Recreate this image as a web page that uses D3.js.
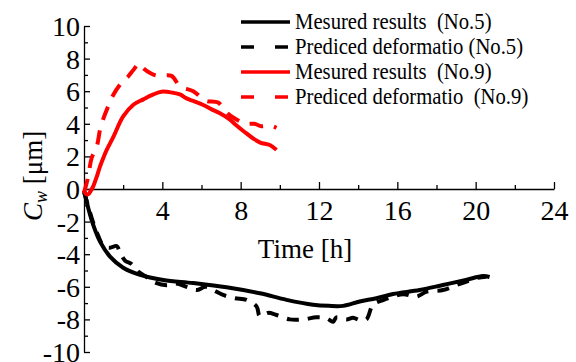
<!DOCTYPE html>
<html>
<head>
<meta charset="utf-8">
<script src="https://cdn.jsdelivr.net/npm/d3@7"></script>
</head>
<body style="margin:0;background:#fff">
<svg id="chart" width="576" height="362" font-family="Liberation Serif" style="display:block;font-family:'Liberation Serif'"></svg>
<script>
// ---- data ----
const xTickLabels = [4, 8, 12, 16, 20, 24];
const xMinorTicks = [2, 6, 10, 14, 18, 22];
const yTickLabels = [10, 8, 6, 4, 2, 0, -2, -4, -6, -8, -10];
const yMinorTicks = [9, 7, 5, 3, 1, -1, -3, -5, -7, -9];

// No.5 measured (black solid)
const no5MeasX = [0, 0.05, 0.22, 0.47, 0.82, 1.33, 2.0, 2.86, 4.05, 5.58, 7.28, 8.98, 10.34, 11.7, 12.5, 13.23, 14.08, 14.93, 15.78, 17.14, 18.33, 19.5, 20.37, 20.71];
const no5MeasY = [-0.1, -0.3, -1.18, -2.2, -3.23, -4.15, -4.83, -5.27, -5.58, -5.77, -6.03, -6.4, -6.8, -7.1, -7.17, -7.17, -6.9, -6.7, -6.44, -6.2, -5.89, -5.58, -5.34, -5.4];

// No.5 predicted (black dashed)
const no5PredX = [0, 0.2, 0.45, 0.7, 1.0, 1.33, 1.67, 1.84, 2.1, 2.43, 2.8, 3.2, 3.54, 4.22, 4.7, 5.24, 5.75, 6.2, 6.6, 7.1, 7.7, 8.3, 8.81, 8.98, 9.4, 9.83, 10.5, 11.19, 11.87, 12.38, 12.72, 12.89, 13.4, 13.74, 14.1, 14.42, 14.76, 15.3, 15.78, 16.3, 16.97, 17.5, 18.33, 19.0, 19.5, 20.1, 20.54];
const no5PredY = [-0.2, -1.0, -2.0, -2.8, -3.5, -3.6, -3.5, -3.9, -4.4, -4.6, -5.1, -5.4, -5.69, -5.9, -5.8, -6.0, -6.2, -6.0, -6.2, -6.5, -6.7, -6.8, -7.2, -7.8, -7.6, -7.73, -8.0, -8.0, -7.87, -7.93, -8.14, -7.87, -8.0, -7.9, -8.05, -8.0, -7.1, -6.8, -6.6, -6.45, -6.6, -6.3, -6.2, -5.9, -5.69, -5.45, -5.38];

// No.9 measured (red solid)
const no9MeasX = [0, 0.1, 0.22, 0.35, 0.47, 0.65, 0.82, 1.0, 1.16, 1.5, 2.0, 2.52, 3.03, 3.54, 3.96, 4.56, 4.9, 5.24, 5.58, 6.09, 6.5, 6.94, 7.4, 7.79, 8.2, 8.64, 9.0, 9.49, 9.83];
const no9MeasY = [-0.1, -0.3, -0.32, -0.1, 0.16, 0.75, 1.39, 1.95, 2.4, 3.2, 4.45, 5.17, 5.5, 5.8, 5.97, 5.9, 5.8, 5.56, 5.4, 5.15, 4.9, 4.64, 4.3, 3.9, 3.5, 3.1, 2.85, 2.7, 2.4];

// No.9 predicted (red dashed)
const no9PredX = [0, 0.1, 0.22, 0.39, 0.65, 0.85, 1.16, 1.5, 1.97, 2.25, 2.52, 2.82, 3.03, 3.4, 3.74, 4.47, 4.9, 5.58, 6.0, 6.26, 6.85, 7.2, 7.6, 8.28, 8.7, 9.06, 9.5, 9.83];
const no9PredY = [-0.2, 0.2, 0.8, 1.9, 2.6, 3.8, 4.85, 5.78, 6.6, 6.9, 7.3, 7.7, 7.4, 7.1, 6.95, 6.94, 6.3, 6.0, 5.6, 5.4, 5.3, 4.8, 4.4, 4.0, 4.0, 3.85, 3.9, 3.75];

const legendLabels = ["Mesured results\u00a0\u00a0(No.5)", "Prediced deformatio (No.5)", "Mesured results\u00a0\u00a0(No.9)", "Prediced deformatio\u00a0\u00a0(No.9)"];
const seriesColors = ["#000000", "#000000", "#ff0000", "#ff0000"];
const seriesDashed = [false, true, false, true];

// ---- drawing ----
const SERIF = "Liberation Serif";
const svg = d3.select("#chart");
const x = d3.scaleLinear().domain([0, 24]).range([84, 554]);
const y = d3.scaleLinear().domain([-10, 10]).range([352, 26]);
const FONT = 28;

function serif(sel) {
  return sel.attr("font-family", SERIF).style("font-family", SERIF);
}

const series = [
  { xs: no5MeasX, ys: no5MeasY },
  { xs: no5PredX, ys: no5PredY },
  { xs: no9MeasX, ys: no9MeasY },
  { xs: no9PredX, ys: no9PredY }
].map((s, i) => ({
  pts: s.xs.map((v, j) => [v, s.ys[j]]),
  color: seriesColors[i],
  dashed: seriesDashed[i],
  label: legendLabels[i]
}));

// Y axis (left spine at x=0)
const yAxis = d3.axisLeft(y).tickValues(yTickLabels).tickFormat(d => String(d))
  .tickSizeInner(-6).tickSizeOuter(0).tickPadding(4);
const gy = svg.append("g").attr("transform", `translate(${x(0)},0)`).call(yAxis);
serif(gy);
serif(gy.selectAll("text")).attr("font-size", FONT).style("font-size", FONT + "px").attr("dy", "0.34em");
const yMinor = d3.axisLeft(y).tickValues(yMinorTicks).tickFormat(() => "").tickSizeInner(-4).tickSizeOuter(0);
svg.append("g").attr("transform", `translate(${x(0)},0)`).call(yMinor).select(".domain").remove();

// X axis through y=0
const xAxis = d3.axisBottom(x).tickValues(xTickLabels).tickFormat(d => String(d))
  .tickSizeInner(-7).tickSizeOuter(0).tickPadding(11);
const gx = svg.append("g").attr("transform", `translate(0,${y(0)})`).call(xAxis);
serif(gx);
serif(gx.selectAll("text")).attr("font-size", FONT).style("font-size", FONT + "px");
const xMinor = d3.axisBottom(x).tickValues(xMinorTicks).tickFormat(() => "").tickSizeInner(-4).tickSizeOuter(0);
svg.append("g").attr("transform", `translate(0,${y(0)})`).call(xMinor).select(".domain").remove();

svg.selectAll(".domain, .tick line").attr("stroke", "#000").attr("stroke-width", 1.3);

// Axis titles
serif(svg.append("text")).attr("x", 305).attr("y", 258)
  .attr("text-anchor", "middle").style("font-size", "27px").text("Time [h]");

const yl = serif(svg.append("text")).attr("transform", "translate(42,221) rotate(-90)")
  .attr("text-anchor", "start").style("font-size", "27px");
yl.append("tspan").attr("font-style", "italic").text("C");
yl.append("tspan").attr("font-style", "italic").attr("dy", 5).style("font-size", "18px").text("w");
yl.append("tspan").attr("dy", -5).text("\u00a0[μm]");

// Curves
const line = d3.line().x(d => x(d[0])).y(d => y(d[1])).curve(d3.curveCatmullRom.alpha(0.5));
series.forEach(s => {
  svg.append("path").datum(s.pts)
    .attr("d", line)
    .attr("fill", "none")
    .attr("stroke", s.color)
    .attr("stroke-width", 4)
    .attr("stroke-linejoin", "round")
    .attr("stroke-dasharray", s.dashed ? (s.color === "#000000" ? "12,9" : "14,11") : null);
});

// Legend
const lg = svg.append("g");
series.forEach((s, i) => {
  const yy = 22 + i * 25;
  lg.append("line").attr("x1", 241).attr("x2", 290).attr("y1", yy).attr("y2", yy)
    .attr("stroke", s.color).attr("stroke-width", 3.6)
    .attr("stroke-dasharray", s.dashed ? "13,21" : null);
  serif(lg.append("text")).attr("transform", `translate(295,${yy + 6.6}) scale(0.92,1)`)
    .style("font-size", "22.5px").attr("fill", "#000").text(s.label);
});
</script>
</body>
</html>
